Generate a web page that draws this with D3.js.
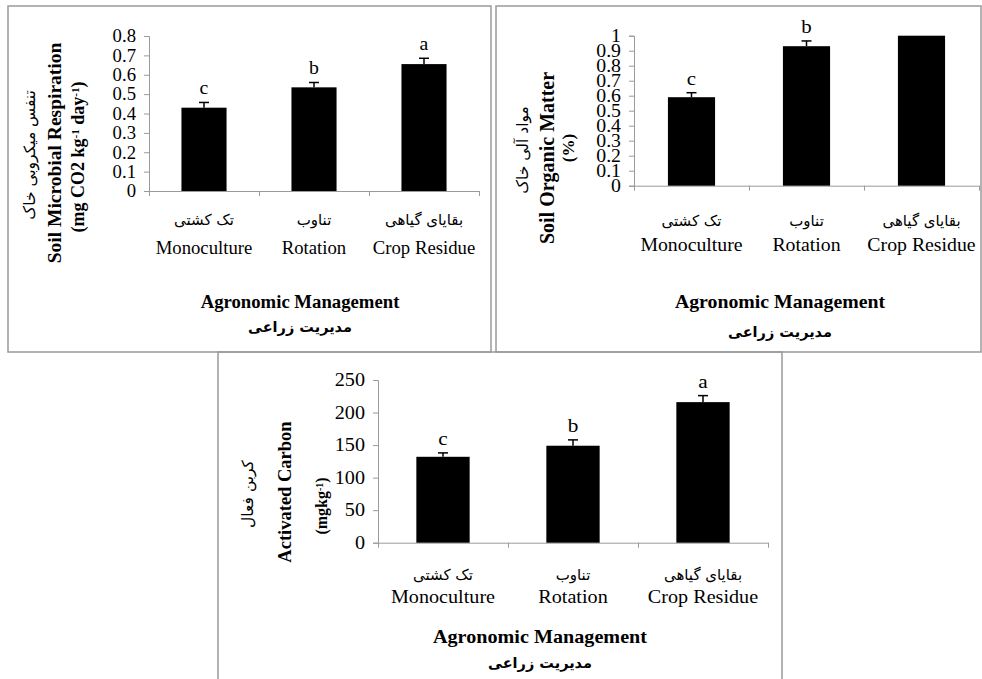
<!DOCTYPE html>
<html>
<head>
<meta charset="utf-8">
<script src="https://cdn.jsdelivr.net/npm/d3@7"></script>
<style>
  html, body { margin: 0; padding: 0; background: #fff; }
  svg { display: block; }
</style>
</head>
<body>
<svg id="chart" width="982" height="679"></svg>
<script>
// ---------- DATA ----------
const categoriesEn = ["Monoculture", "Rotation", "Crop Residue"];
const categoriesFa = ["تک کشتی", "تناوب", "بقایای گیاهی"];

const respirationValues = [0.43, 0.535, 0.655];
const respirationErrors = [0.027, 0.025, 0.03];
const respirationLetters = ["c", "b", "a"];
const respirationTicks = [0, 0.1, 0.2, 0.3, 0.4, 0.5, 0.6, 0.7, 0.8];

const organicValues = [0.59, 0.93, 1.0];
const organicErrors = [0.03, 0.035, 0.03];
const organicLetters = ["c", "b", "a"];
const organicTicks = [0, 0.1, 0.2, 0.3, 0.4, 0.5, 0.6, 0.7, 0.8, 0.9, 1];

const carbonValues = [132, 149, 216];
const carbonErrors = [6, 9, 10];
const carbonLetters = ["c", "b", "a"];
const carbonTicks = [0, 50, 100, 150, 200, 250];

const xTitleEn = "Agronomic Management";
const xTitleFa = "مدیریت زراعی";

// ---------- LAYOUT ----------
const LATIN = "'Liberation Serif', 'Times New Roman', serif";
const PERSIAN = "'DejaVu Sans', sans-serif";
const AXIS_COLOR = "#9a9a9a";

const panels = [
  {
    frame: {x: 8, y: 6, w: 483, h: 346},
    plot: {x0: 149, x1: 479, top: 36, bottom: 191},
    values: respirationValues, errors: respirationErrors, letters: respirationLetters,
    ticks: respirationTicks, sx: 1.04,
    faY: 225, enY: 254, titleX: 300, titleY: 308, titleFaY: 332,
    yTitles: [
      {text: [["تنفس میکروبی خاک"]], x: 30, y: 155, fa: true, size: 15.5},
      {text: [["Soil Microbial Respiration"]], x: 55, y: 153, size: 19.5, bold: true},
      {text: [["(mg CO2 kg"], ["-1", "sup"], [" day"], ["-1", "sup"], [")"]], x: 78, y: 157, size: 18, bold: true}
    ]
  },
  {
    frame: {x: 496, y: 6, w: 485, h: 346},
    plot: {x0: 634, x1: 979, top: 35.7, bottom: 185.7},
    values: organicValues, errors: organicErrors, letters: organicLetters,
    ticks: organicTicks, sx: 1.1,
    faY: 226, enY: 251, titleX: 780, titleY: 308, titleFaY: 337,
    yTitles: [
      {text: [["مواد آلی خاک"]], x: 523, y: 150, fa: true, size: 15.5},
      {text: [["Soil Organic Matter"]], x: 548, y: 158, size: 20, bold: true},
      {text: [["(%)"]], x: 568, y: 148, size: 17, bold: true}
    ]
  },
  {
    frame: {x: 218, y: 352, w: 564, h: 330},
    plot: {x0: 378, x1: 768, top: 380, bottom: 542.7},
    values: carbonValues, errors: carbonErrors, letters: carbonLetters,
    ticks: carbonTicks, sx: 1.12,
    faY: 580, enY: 603, titleX: 540, titleY: 643, titleFaY: 668,
    yTitles: [
      {text: [["کربن فعال"]], x: 248, y: 494, fa: true, size: 15.5},
      {text: [["Activated Carbon"]], x: 285, y: 492, size: 18.5, bold: true},
      {text: [["(mgkg"], ["-1", "sup"], [")"]], x: 321, y: 506, size: 16, bold: true}
    ]
  }
];

const svg = d3.select("#chart");

function stretchText(sel, x, y, str, opt) {
  return sel.append("text")
    .attr("x", x).attr("y", y)
    .attr("transform", `translate(${x},0) scale(${opt.sx || 1},1) translate(${-x},0)`)
    .attr("text-anchor", opt.anchor || "middle")
    .attr("font-family", opt.family || LATIN)
    .attr("font-size", opt.size || 18)
    .attr("font-weight", opt.weight || "normal")
    .attr("fill", "#000")
    .text(str);
}

panels.forEach(p => {
  const g = svg.append("g");
  // frame
  g.append("rect")
    .attr("x", p.frame.x).attr("y", p.frame.y)
    .attr("width", p.frame.w).attr("height", p.frame.h)
    .attr("fill", "none").attr("stroke", AXIS_COLOR).attr("stroke-width", 1.5);

  const maxV = p.ticks[p.ticks.length - 1];
  const y = d3.scaleLinear().domain([0, maxV]).range([p.plot.bottom, p.plot.top]).clamp(true);
  const x = d3.scaleBand().domain(categoriesEn).range([p.plot.x0, p.plot.x1])
    .paddingInner(0.59).paddingOuter(0.295);
  const xEdges = d3.scaleLinear().domain([0, categoriesEn.length]).range([p.plot.x0, p.plot.x1]);

  // y axis
  const yAxis = g.append("g")
    .attr("transform", `translate(${p.plot.x0},0)`)
    .call(d3.axisLeft(y).tickValues(p.ticks).tickSize(5).tickPadding(8)
      .tickFormat(d => String(+d.toFixed(2))));
  yAxis.select(".domain").attr("stroke", AXIS_COLOR);
  yAxis.selectAll(".tick line").attr("stroke", AXIS_COLOR);
  yAxis.selectAll(".tick text")
    .attr("font-family", LATIN).attr("font-size", 18).attr("fill", "#000")
    .attr("transform", `translate(-13,0) scale(${p.sx},1) translate(13,0)`);

  // x axis (ticks on category boundaries)
  const xAxis = g.append("g")
    .attr("transform", `translate(0,${p.plot.bottom})`)
    .call(d3.axisBottom(xEdges).tickValues(d3.range(categoriesEn.length + 1))
      .tickSize(5).tickSizeOuter(0).tickFormat(""));
  xAxis.select(".domain").attr("stroke", AXIS_COLOR);
  xAxis.selectAll(".tick line").attr("stroke", AXIS_COLOR);
  xAxis.selectAll(".tick text").remove();

  const rows = categoriesEn.map((c, i) => ({
    c, fa: categoriesFa[i], v: p.values[i], e: p.errors[i], l: p.letters[i]
  }));

  // bars
  g.selectAll("rect.bar").data(rows).enter().append("rect")
    .attr("class", "bar")
    .attr("x", d => x(d.c)).attr("width", x.bandwidth())
    .attr("y", d => y(d.v)).attr("height", d => y(0) - y(d.v))
    .attr("fill", "#000");

  // error bars (hidden where the bar is cut off at the axis maximum)
  const visible = rows.filter(d => d.v < maxV);
  const eb = g.selectAll("g.err").data(visible).enter().append("g").attr("class", "err");
  eb.append("line")
    .attr("x1", d => x(d.c) + x.bandwidth() / 2).attr("x2", d => x(d.c) + x.bandwidth() / 2)
    .attr("y1", d => y(d.v)).attr("y2", d => y(d.v + d.e))
    .attr("stroke", "#000").attr("stroke-width", 1.5);
  eb.append("line")
    .attr("x1", d => x(d.c) + x.bandwidth() / 2 - 5).attr("x2", d => x(d.c) + x.bandwidth() / 2 + 5)
    .attr("y1", d => y(d.v + d.e)).attr("y2", d => y(d.v + d.e))
    .attr("stroke", "#000").attr("stroke-width", 1.5);

  // letters
  visible.forEach(d => {
    stretchText(g, x(d.c) + x.bandwidth() / 2, y(d.v + d.e) - 8, d.l, {size: 19, sx: p.sx});
  });

  // category labels
  rows.forEach(d => {
    const cx = x(d.c) + x.bandwidth() / 2;
    g.append("text").attr("x", cx).attr("y", p.faY)
      .attr("text-anchor", "middle").attr("font-family", PERSIAN).attr("font-size", 15)
      .attr("direction", "rtl").attr("fill", "#000")
      .text(d.fa);
    stretchText(g, cx, p.enY, d.c, {size: 18, sx: p.sx});
  });

  // x titles
  stretchText(g, p.titleX, p.titleY, xTitleEn, {size: 18, sx: p.sx, weight: "bold"});
  g.append("text").attr("x", p.titleX).attr("y", p.titleFaY)
    .attr("text-anchor", "middle").attr("font-family", PERSIAN).attr("font-size", 14.5)
    .attr("font-weight", "bold").attr("direction", "rtl").attr("fill", "#000")
    .text(xTitleFa);

  // y titles (rotated)
  p.yTitles.forEach(t => {
    const bx = t.x + (t.fa ? 5 : 6);
    const txt = g.append("text")
      .attr("transform", `translate(${bx},${t.y}) rotate(-90)`)
      .attr("text-anchor", "middle")
      .attr("font-family", t.fa ? PERSIAN : LATIN)
      .attr("font-size", t.size)
      .attr("font-weight", t.bold ? "bold" : "normal")
      .attr("fill", "#000");
    if (t.fa) txt.attr("direction", "rtl");
    let shift = null;
    t.text.forEach(([s, kind]) => {
      const ts = txt.append("tspan").text(s);
      if (kind === "sup") {
        ts.attr("dy", "-0.45em").attr("font-size", t.size * 0.62);
        shift = "0.45em";
      } else if (shift) {
        ts.attr("dy", (0.45 * t.size * 0.62) + "px");
        shift = null;
      }
    });
  });
});
</script>
</body>
</html>
